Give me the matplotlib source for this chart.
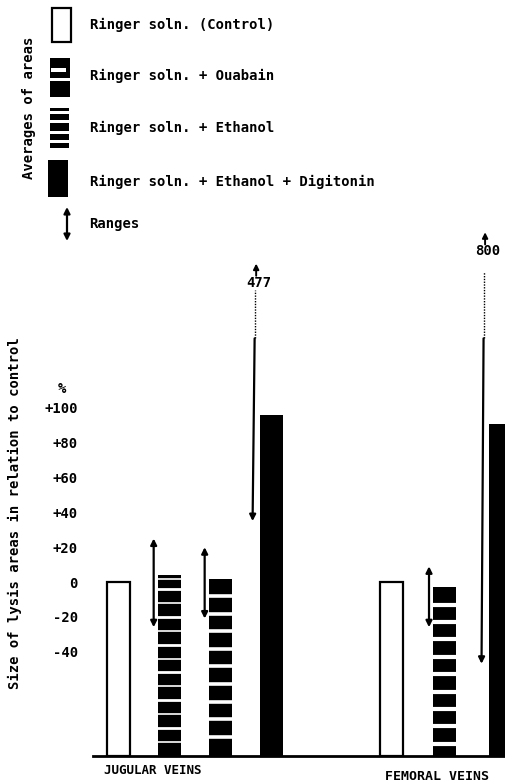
import numpy as np
import matplotlib
matplotlib.use("Agg")
import matplotlib.pyplot as plt
from matplotlib.patches import Rectangle

plt.rcParams['font.family'] = ['DejaVu Sans Mono']
plt.rcParams['font.weight'] = 'bold'
plt.rcParams['font.size'] = 10

# data (percent relative to control)
treatments = ["Ringer soln. (Control)", "Ringer soln. + Ouabain",
              "Ringer soln. + Ethanol", "Ringer soln. + Ethanol + Digitonin"]
groups = ["JUGULAR VEINS", "FEMORAL VEINS"]

jug_kind = ["control", "ouabain", "ethanol", "digitonin"]
jug_mean = [0, 4, 2, 96]
jug_low = [None, -26, -21, 35]
jug_high = [None, 25, 20, 477]

fem_kind = ["control", "ouabain", "digitonin"]
fem_mean = [0, -3, 91]
fem_low = [None, -26, -47]
fem_high = [None, 9, 800]

ytick_vals = [100, 80, 60, 40, 20, 0, -20, -40]
ytick_labels = ["+100", "+80", "+60", "+40", "+20", "0", "-20", "-40"]

base = -100
W, H = 506, 784
fig = plt.figure(figsize=(W / 100, H / 100), dpi=100)

ax = fig.add_axes([93 / W, (H - 756) / H, (W - 93) / W, (756 - 230) / H])
ax.set_xlim(0, 8.1)
ax.set_ylim(base, base + 526 / 1.74)
for s in ["top", "right", "left"]:
    ax.spines[s].set_visible(False)
ax.spines["bottom"].set_linewidth(2)
ax.set_xticks([])
ax.set_yticks(ytick_vals)
ax.set_yticklabels(ytick_labels)
ax.tick_params(axis="y", length=0, pad=11)

bw = 0.45
stripe_period = {"ouabain": 8.0, "ethanol": 10.1}
stripe_lw = {"ouabain": 2.0, "ethanol": 2.6}


def draw_bar(x, mean, kind, fem=False):
    if kind == "control":
        ax.bar(x, mean - base, bottom=base, width=bw, facecolor="white",
               edgecolor="black", linewidth=1.6)
        return
    ax.bar(x, mean - base, bottom=base, width=bw, color="black", linewidth=0)
    if kind == "digitonin":
        return
    period = 10.0 if fem else stripe_period[kind]
    lw = 3.0 if fem else stripe_lw[kind]
    ys = np.arange(mean - period, base + 2, -period)
    if kind == "ouabain" and not fem:
        ys = np.concatenate([[mean - 2.5], ys])
        lws = [lw if i % 2 else 1.2 for i in range(len(ys))]
    else:
        lws = [lw] * len(ys)
    for y, l in zip(ys, lws):
        ax.plot([x - bw / 2 - 0.02, x + bw / 2 + 0.02], [y, y], color="white",
                lw=l, solid_capstyle="butt")


def draw_range(x, lo, hi, label_x=None):
    if lo is None:
        return
    if hi <= 150:
        ax.annotate("", xy=(x, hi), xytext=(x, lo),
                    arrowprops=dict(arrowstyle="<|-|>", color="black", lw=1.6,
                                    mutation_scale=9, shrinkA=0, shrinkB=0))
        return
    brk = 140
    top_dot = 168 if hi < 600 else 178
    lab_y = 172 if hi < 600 else 190
    ax.annotate("", xy=(x, lo), xytext=(x + 0.04, brk),
                arrowprops=dict(arrowstyle="-|>", color="black", lw=1.6,
                                mutation_scale=9, shrinkA=0, shrinkB=0))
    ax.plot([x + 0.05, x + 0.05], [brk, top_dot], color="black", lw=1.0,
            linestyle=(0, (1, 1)))
    lx = x + 0.12
    ax.text(lx, lab_y, str(hi), ha="center", va="center", fontsize=10)
    ax.annotate("", xy=(lx - 0.05, lab_y + 11), xytext=(lx - 0.05, lab_y + 4),
                arrowprops=dict(arrowstyle="-|>", color="black", lw=1.4,
                                mutation_scale=8, shrinkA=0, shrinkB=0))


jug_x = [0.5, 1.5, 2.5, 3.5]
fem_x = [5.85, 6.9, 8.0]
jug_off = [0, -0.31, -0.31, -0.37]
fem_off = [0, -0.31, -0.38]

for x, m, k, lo, hi, o in zip(jug_x, jug_mean, jug_kind, jug_low, jug_high, jug_off):
    draw_bar(x, m, k)
    draw_range(x + o, lo, hi)
for x, m, k, lo, hi, o in zip(fem_x, fem_mean, fem_kind, fem_low, fem_high, fem_off):
    draw_bar(x, m, k, fem=True)
    draw_range(x + o, lo, hi)

# overlay in pixel coordinates for legend and free labels
ov = fig.add_axes([0, 0, 1, 1])
ov.set_xlim(0, W)
ov.set_ylim(H, 0)
ov.axis("off")
ov.patch.set_alpha(0)

# legend swatches
ov.add_patch(Rectangle((52, 8), 19, 34, facecolor="white", edgecolor="black", lw=1.6))
ov.add_patch(Rectangle((50, 58), 20, 39, facecolor="black"))
ov.add_patch(Rectangle((51, 68), 15, 4, facecolor="white"))
ov.add_patch(Rectangle((50, 78), 20, 2.5, facecolor="white"))
ov.add_patch(Rectangle((50, 108), 19, 40, facecolor="black"))
for gy in [111, 120, 131, 140]:
    ov.add_patch(Rectangle((50, gy), 19, 2.5, facecolor="white"))
ov.add_patch(Rectangle((48, 160), 20, 37, facecolor="black"))
ov.annotate("", xy=(67, 207), xytext=(67, 241),
            arrowprops=dict(arrowstyle="<|-|>", color="black", lw=1.6,
                            mutation_scale=9, shrinkA=0, shrinkB=0))

for t, y in zip(treatments, [25, 76, 128, 182]):
    ov.text(90, y, t, ha="left", va="center")
ov.text(89, 224, "Ranges", ha="left", va="center")
ov.text(29, 108, "Averages of areas", rotation=90, ha="center", va="center")

ov.text(15, 513, "Size of lysis areas in relation to control", rotation=90,
        ha="center", va="center")
ov.text(62, 389, "%", ha="center", va="center")

ov.text(153, 771, groups[0], ha="center", va="center", fontsize=9)
ov.text(437, 776, groups[1], ha="center", va="center", fontsize=9.5)

fig.savefig("out.png", dpi=100)
